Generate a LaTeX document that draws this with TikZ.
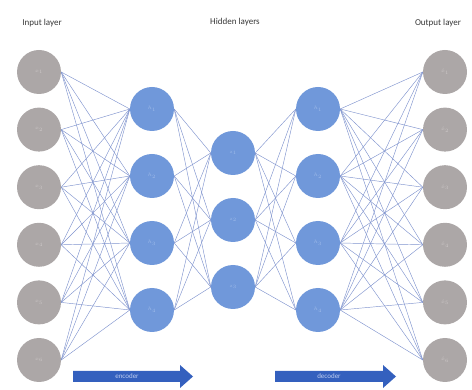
\documentclass[tikz,border=0pt]{standalone}
\usepackage{fontspec}
\setmainfont{Carlito}
\usetikzlibrary{backgrounds}
\begin{document}
\begin{tikzpicture}[x=1pt,y=-1pt,
  neuronin/.style={circle,fill={rgb,255:red,172;green,167;blue,167},minimum size=44pt,inner sep=0pt,font=\fontsize{5}{6}\selectfont,text={rgb,255:red,205;green,200;blue,200}},
  neuronhid/.style={circle,fill={rgb,255:red,112;green,152;blue,218},minimum size=44pt,inner sep=0pt,font=\fontsize{5}{6}\selectfont,text={rgb,255:red,160;green,188;blue,234}},
  link/.style={draw={rgb,255:red,128;green,148;blue,206},line width=0.45pt},
  title/.style={font=\fontsize{9}{10}\selectfont,text={rgb,255:red,55;green,55;blue,55}},
  flow/.style={fill={rgb,255:red,52;green,96;blue,190}},
  flowtext/.style={font=\fontsize{7}{8}\selectfont,text={rgb,255:red,190;green,205;blue,240}}]
\useasboundingbox (0,0) rectangle (472,390);

% layer titles
\node[title] (tin) at (42,23) {Input layer};
\node[title] (thid) at (235,22) {Hidden layers};
\node[title] (tout) at (438,23) {Output layer};

% input and output layers
\foreach \i in {1,...,6} {
  \pgfmathsetmacro{\yy}{72+57.6*(\i-1)}
  \node[neuronin] (in\i) at (39,\yy) {$x_\i$};
  \node[neuronin] (out\i) at (445,\yy) {$\hat{x}_\i$};
}
% first and third hidden layers
\foreach \i in {1,...,4} {
  \pgfmathsetmacro{\yy}{109+67*(\i-1)}
  \node[neuronhid] (ha\i) at (152,\yy) {$h_\i$};
  \node[neuronhid] (hc\i) at (318,\yy) {$h_\i$};
}
% code layer
\foreach \i in {1,...,3} {
  \pgfmathsetmacro{\yy}{153+67*(\i-1)}
  \node[neuronhid] (hb\i) at (233,\yy) {$z_\i$};
}

% fully connected weights, behind the neurons
\begin{pgfonlayer}{background}
\foreach \i in {1,...,6} \foreach \j in {1,...,4} {
  \draw[link] (in\i.east) -- (ha\j.west);
  \draw[link] (hc\j.east) -- (out\i.west);
}
\foreach \i in {1,...,4} \foreach \j in {1,...,3} {
  \draw[link] (ha\i.east) -- (hb\j.west);
  \draw[link] (hb\j.east) -- (hc\i.west);
}
\end{pgfonlayer}

% encoder / decoder arrows
\fill[flow] (73,371) -- (180,371) -- (180,365) -- (193,376.5) -- (180,388) -- (180,382) -- (73,382) -- cycle;
\node[flowtext] (enc) at (127,376.5) {encoder};
\fill[flow] (275,371) -- (383,371) -- (383,365) -- (396,376.5) -- (383,388) -- (383,382) -- (275,382) -- cycle;
\node[flowtext] (dec) at (329,376.5) {decoder};
\end{tikzpicture}
\end{document}
